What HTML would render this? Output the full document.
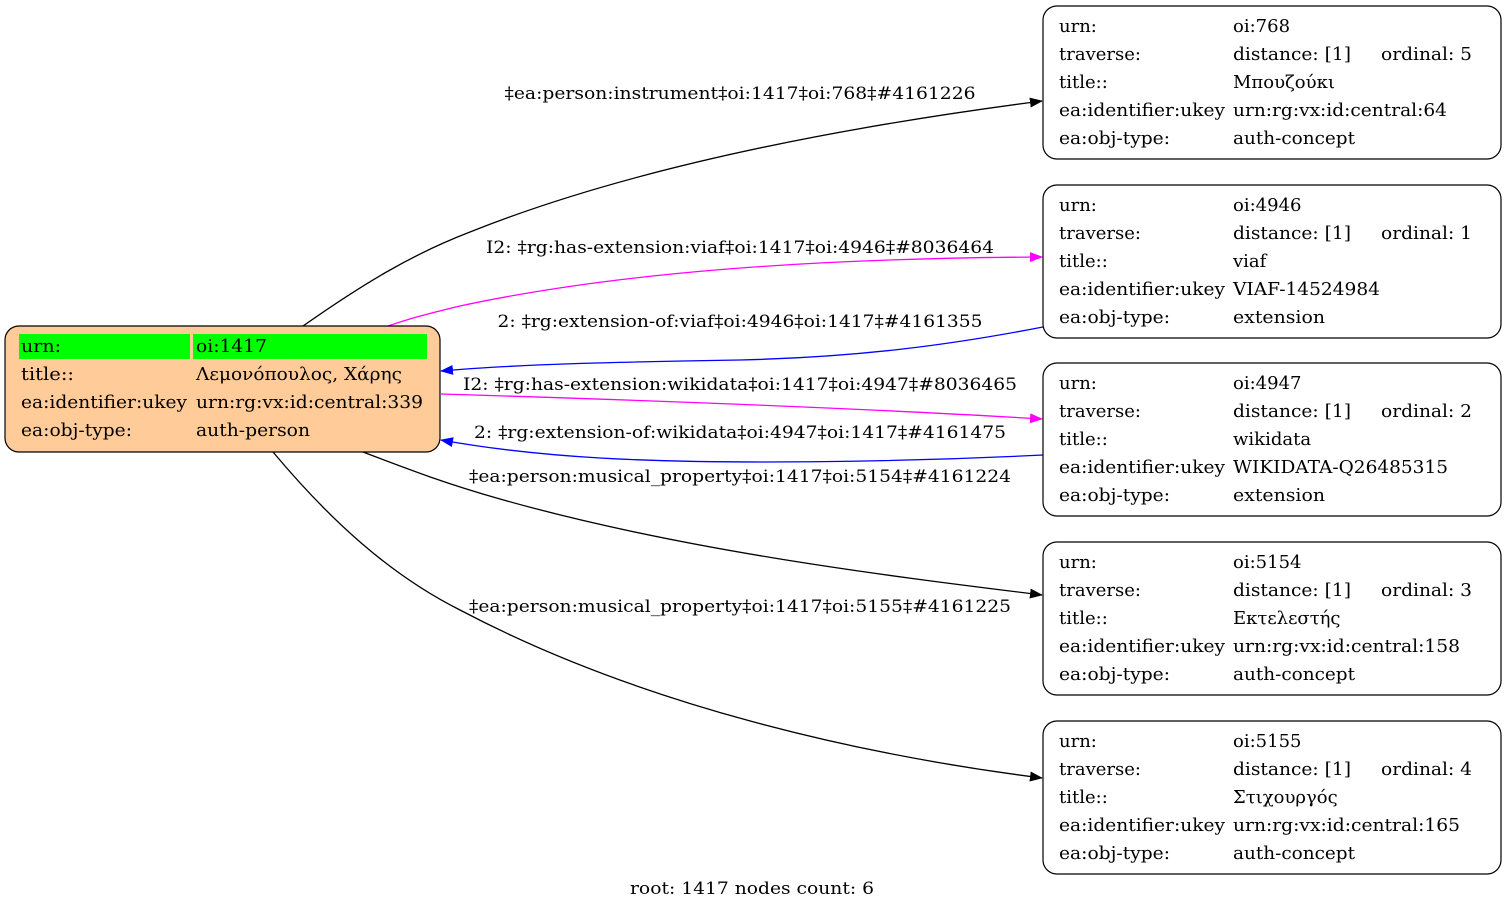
<!DOCTYPE html>
<html><head><meta charset="utf-8"><style>
html,body{margin:0;padding:0;background:#fff;}
svg{display:block;font-family:"DejaVu Serif","Liberation Serif",serif;font-size:18px;}
</style></head><body>
<svg width="1507" height="911" viewBox="0 0 1507 911" xmlns="http://www.w3.org/2000/svg">
<defs>
<marker id="ak" markerWidth="13" markerHeight="10" refX="12" refY="5" orient="auto" markerUnits="userSpaceOnUse"><path d="M0,0 L13,5 L0,10 z" fill="#000"/></marker>
<marker id="am" markerWidth="13" markerHeight="10" refX="12" refY="5" orient="auto" markerUnits="userSpaceOnUse"><path d="M0,0 L13,5 L0,10 z" fill="#f0f"/></marker>
<marker id="ab" markerWidth="13" markerHeight="10" refX="12" refY="5" orient="auto" markerUnits="userSpaceOnUse"><path d="M0,0 L13,5 L0,10 z" fill="#00f"/></marker>
</defs>
<g fill="none" stroke-width="1.3">
<path d="M303,326 C360,286 410,255 470,232 C650,160 880,122 1042,101" stroke="#000" marker-end="url(#ak)"/>
<path d="M388,326 C400,322 410,318 460,306 C650,265 880,258 1042,257" stroke="#f0f" marker-end="url(#am)"/>
<path d="M1043,327 C950,345 860,357 740,360 C620,362 520,364 441,371" stroke="#00f" marker-end="url(#ab)"/>
<path d="M441,394 C640,400 860,408 1042,419" stroke="#f0f" marker-end="url(#am)"/>
<path d="M1043,455 C900,462 720,465 600,458 C530,454 480,447 441,440" stroke="#00f" marker-end="url(#ab)"/>
<path d="M363,452 C400,466 440,482 500,499 C680,550 880,575 1042,595" stroke="#000" marker-end="url(#ak)"/>
<path d="M273,452 C330,520 390,575 460,610 C640,705 860,755 1042,778" stroke="#000" marker-end="url(#ak)"/>
</g>
<g text-anchor="middle" font-size="17">
<text x="740" y="99" textLength="471" lengthAdjust="spacingAndGlyphs">‡ea:person:instrument‡oi:1417‡oi:768‡#4161226</text>
<text x="740" y="253" textLength="508" lengthAdjust="spacingAndGlyphs">I2: ‡rg:has-extension:viaf‡oi:1417‡oi:4946‡#8036464</text>
<text x="740" y="327" textLength="485" lengthAdjust="spacingAndGlyphs">2: ‡rg:extension-of:viaf‡oi:4946‡oi:1417‡#4161355</text>
<text x="740" y="390" textLength="554" lengthAdjust="spacingAndGlyphs">I2: ‡rg:has-extension:wikidata‡oi:1417‡oi:4947‡#8036465</text>
<text x="740" y="438" textLength="532" lengthAdjust="spacingAndGlyphs">2: ‡rg:extension-of:wikidata‡oi:4947‡oi:1417‡#4161475</text>
<text x="740" y="482" textLength="542" lengthAdjust="spacingAndGlyphs">‡ea:person:musical_property‡oi:1417‡oi:5154‡#4161224</text>
<text x="740" y="612" textLength="542" lengthAdjust="spacingAndGlyphs">‡ea:person:musical_property‡oi:1417‡oi:5155‡#4161225</text>
<text x="752" y="894" textLength="244" lengthAdjust="spacingAndGlyphs">root: 1417 nodes count: 6</text>
</g>
<!-- root -->
<rect x="5" y="326" width="435" height="126" rx="14" fill="#ffcc99" stroke="#000" stroke-width="1.2"/>
<rect x="19" y="334" width="171" height="25" fill="#00ff00"/>
<rect x="193" y="334" width="234" height="25" fill="#00ff00"/>
<g>
<text x="21" y="352" textLength="40" lengthAdjust="spacingAndGlyphs">urn:</text><text x="196" y="352" textLength="71" lengthAdjust="spacingAndGlyphs">oi:1417</text>
<text x="21" y="380" textLength="53" lengthAdjust="spacingAndGlyphs">title::</text><text x="196" y="380" textLength="206" lengthAdjust="spacingAndGlyphs">Λεμονόπουλος, Χάρης</text>
<text x="21" y="408" textLength="166" lengthAdjust="spacingAndGlyphs">ea:identifier:ukey</text><text x="196" y="408" textLength="227" lengthAdjust="spacingAndGlyphs">urn:rg:vx:id:central:339</text>
<text x="21" y="436" textLength="111" lengthAdjust="spacingAndGlyphs">ea:obj-type:</text><text x="196" y="436" textLength="114" lengthAdjust="spacingAndGlyphs">auth-person</text>
</g>
<!-- right nodes -->
<g>
<g transform="translate(0,0)">
<rect x="1043" y="6" width="458" height="153" rx="14" fill="#fff" stroke="#000" stroke-width="1.2"/>
<text x="1059" y="32">urn:</text><text x="1233" y="32">oi:768</text>
<text x="1059" y="60">traverse:</text><text x="1233" y="60" textLength="118" lengthAdjust="spacingAndGlyphs">distance: [1]</text><text x="1381" y="60" textLength="91" lengthAdjust="spacingAndGlyphs">ordinal: 5</text>
<text x="1059" y="88">title::</text><text x="1233" y="88">Μπουζούκι</text>
<text x="1059" y="116" textLength="166" lengthAdjust="spacingAndGlyphs">ea:identifier:ukey</text><text x="1233" y="116" textLength="214" lengthAdjust="spacingAndGlyphs">urn:rg:vx:id:central:64</text>
<text x="1059" y="144" textLength="111" lengthAdjust="spacingAndGlyphs">ea:obj-type:</text><text x="1233" y="144" textLength="122" lengthAdjust="spacingAndGlyphs">auth-concept</text>
</g>
<g transform="translate(0,179)">
<rect x="1043" y="6" width="458" height="153" rx="14" fill="#fff" stroke="#000" stroke-width="1.2"/>
<text x="1059" y="32">urn:</text><text x="1233" y="32">oi:4946</text>
<text x="1059" y="60">traverse:</text><text x="1233" y="60" textLength="118" lengthAdjust="spacingAndGlyphs">distance: [1]</text><text x="1381" y="60" textLength="91" lengthAdjust="spacingAndGlyphs">ordinal: 1</text>
<text x="1059" y="88">title::</text><text x="1233" y="88">viaf</text>
<text x="1059" y="116" textLength="166" lengthAdjust="spacingAndGlyphs">ea:identifier:ukey</text><text x="1233" y="116" textLength="147" lengthAdjust="spacingAndGlyphs">VIAF-14524984</text>
<text x="1059" y="144" textLength="111" lengthAdjust="spacingAndGlyphs">ea:obj-type:</text><text x="1233" y="144" textLength="92" lengthAdjust="spacingAndGlyphs">extension</text>
</g>
<g transform="translate(0,357)">
<rect x="1043" y="6" width="458" height="153" rx="14" fill="#fff" stroke="#000" stroke-width="1.2"/>
<text x="1059" y="32">urn:</text><text x="1233" y="32">oi:4947</text>
<text x="1059" y="60">traverse:</text><text x="1233" y="60" textLength="118" lengthAdjust="spacingAndGlyphs">distance: [1]</text><text x="1381" y="60" textLength="91" lengthAdjust="spacingAndGlyphs">ordinal: 2</text>
<text x="1059" y="88">title::</text><text x="1233" y="88">wikidata</text>
<text x="1059" y="116" textLength="166" lengthAdjust="spacingAndGlyphs">ea:identifier:ukey</text><text x="1233" y="116" textLength="215" lengthAdjust="spacingAndGlyphs">WIKIDATA-Q26485315</text>
<text x="1059" y="144" textLength="111" lengthAdjust="spacingAndGlyphs">ea:obj-type:</text><text x="1233" y="144" textLength="92" lengthAdjust="spacingAndGlyphs">extension</text>
</g>
<g transform="translate(0,536)">
<rect x="1043" y="6" width="458" height="153" rx="14" fill="#fff" stroke="#000" stroke-width="1.2"/>
<text x="1059" y="32">urn:</text><text x="1233" y="32">oi:5154</text>
<text x="1059" y="60">traverse:</text><text x="1233" y="60" textLength="118" lengthAdjust="spacingAndGlyphs">distance: [1]</text><text x="1381" y="60" textLength="91" lengthAdjust="spacingAndGlyphs">ordinal: 3</text>
<text x="1059" y="88">title::</text><text x="1233" y="88">Εκτελεστής</text>
<text x="1059" y="116" textLength="166" lengthAdjust="spacingAndGlyphs">ea:identifier:ukey</text><text x="1233" y="116" textLength="227" lengthAdjust="spacingAndGlyphs">urn:rg:vx:id:central:158</text>
<text x="1059" y="144" textLength="111" lengthAdjust="spacingAndGlyphs">ea:obj-type:</text><text x="1233" y="144" textLength="122" lengthAdjust="spacingAndGlyphs">auth-concept</text>
</g>
<g transform="translate(0,715)">
<rect x="1043" y="6" width="458" height="153" rx="14" fill="#fff" stroke="#000" stroke-width="1.2"/>
<text x="1059" y="32">urn:</text><text x="1233" y="32">oi:5155</text>
<text x="1059" y="60">traverse:</text><text x="1233" y="60" textLength="118" lengthAdjust="spacingAndGlyphs">distance: [1]</text><text x="1381" y="60" textLength="91" lengthAdjust="spacingAndGlyphs">ordinal: 4</text>
<text x="1059" y="88">title::</text><text x="1233" y="88">Στιχουργός</text>
<text x="1059" y="116" textLength="166" lengthAdjust="spacingAndGlyphs">ea:identifier:ukey</text><text x="1233" y="116" textLength="227" lengthAdjust="spacingAndGlyphs">urn:rg:vx:id:central:165</text>
<text x="1059" y="144" textLength="111" lengthAdjust="spacingAndGlyphs">ea:obj-type:</text><text x="1233" y="144" textLength="122" lengthAdjust="spacingAndGlyphs">auth-concept</text>
</g>
</g>
</svg>
</body></html>
